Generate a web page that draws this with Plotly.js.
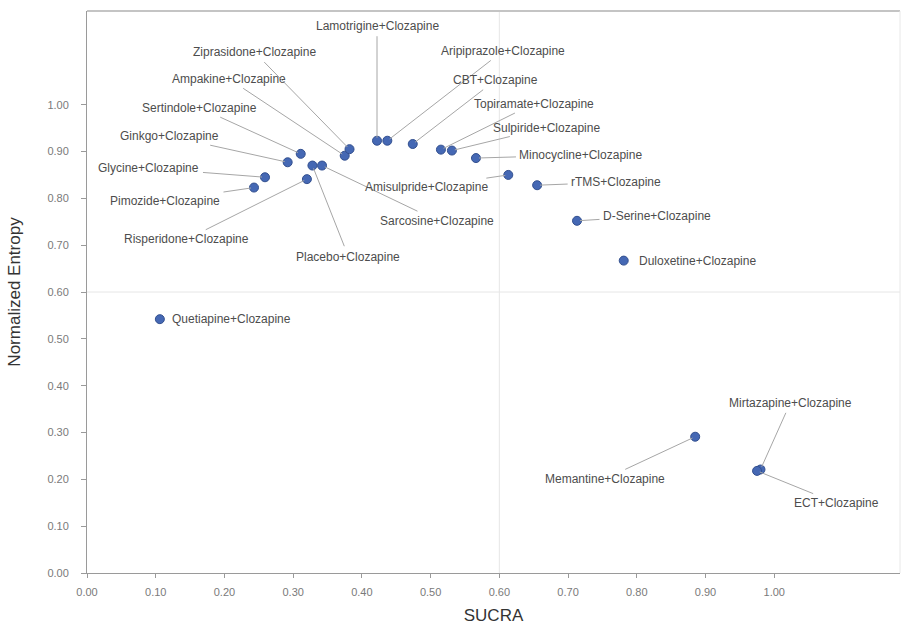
<!DOCTYPE html>
<html>
<head>
<meta charset="utf-8">
<script src="https://cdn.plot.ly/plotly-3.0.1.min.js"></script>
<style>html,body{margin:0;padding:0;background:#fff;}#chart{width:902px;height:625px;}</style>
</head>
<body>
<div id="chart"></div>
<script>
// ---- data ----
const treatments = [
  "Pimozide+Clozapine", "Glycine+Clozapine", "Ginkgo+Clozapine", "Sertindole+Clozapine",
  "Risperidone+Clozapine", "Placebo+Clozapine", "Sarcosine+Clozapine", "Ampakine+Clozapine",
  "Ziprasidone+Clozapine", "Lamotrigine+Clozapine", "Aripiprazole+Clozapine", "CBT+Clozapine",
  "Topiramate+Clozapine", "Sulpiride+Clozapine", "Minocycline+Clozapine", "Amisulpride+Clozapine",
  "rTMS+Clozapine", "D-Serine+Clozapine", "Duloxetine+Clozapine", "Quetiapine+Clozapine",
  "Memantine+Clozapine", "Mirtazapine+Clozapine", "ECT+Clozapine"
];
const sucra = [
  0.243, 0.259, 0.292, 0.311,
  0.320, 0.328, 0.342, 0.375,
  0.382, 0.422, 0.437, 0.474,
  0.515, 0.531, 0.566, 0.613,
  0.655, 0.713, 0.781, 0.106,
  0.885, 0.980, 0.975
];
const entropy = [
  0.823, 0.845, 0.877, 0.895,
  0.841, 0.870, 0.870, 0.891,
  0.905, 0.923, 0.923, 0.916,
  0.904, 0.902, 0.886, 0.850,
  0.828, 0.752, 0.667, 0.542,
  0.291, 0.221, 0.218
];
const tickValues = [0, 0.1, 0.2, 0.3, 0.4, 0.5, 0.6, 0.7, 0.8, 0.9, 1.0];
const tickLabels = ["0.00", "0.10", "0.20", "0.30", "0.40", "0.50", "0.60", "0.70", "0.80", "0.90", "1.00"];
const refSucra = 0.6;
const refEntropy = 0.6;

// ---- label placement (pixel offsets from each point) ----
const labelOffsets = {
  "Pimozide+Clozapine": [-89, 13],
  "Glycine+Clozapine": [-116, -9],
  "Ginkgo+Clozapine": [-118, -26],
  "Sertindole+Clozapine": [-101, -46],
  "Risperidone+Clozapine": [-120, 60],
  "Placebo+Clozapine": [36, 91],
  "Sarcosine+Clozapine": [115, 55],
  "Ampakine+Clozapine": [-116, -77],
  "Ziprasidone+Clozapine": [-95, -97],
  "Lamotrigine+Clozapine": [0, -115],
  "Aripiprazole+Clozapine": [116, -90],
  "CBT+Clozapine": [83, -64],
  "Topiramate+Clozapine": [93, -46],
  "Sulpiride+Clozapine": [95, -23],
  "Minocycline+Clozapine": [105, -3],
  "Amisulpride+Clozapine": [-82, 12],
  "rTMS+Clozapine": [79, -3],
  "D-Serine+Clozapine": [80, -5],
  "Memantine+Clozapine": [-90, 42],
  "Mirtazapine+Clozapine": [30, -67],
  "ECT+Clozapine": [79, 32]
};
const plainLabels = { // labels without leader lines: left shift in px
  "Duloxetine+Clozapine": 13,
  "Quetiapine+Clozapine": 10
};

const labelFont = {family: "Liberation Sans, Arial, sans-serif", size: 12, color: "#4d4d4d"};
const annotations = treatments.map((t, i) => {
  if (plainLabels[t] !== undefined) {
    return {x: sucra[i], y: entropy[i], xref: "x", yref: "y", text: t, showarrow: false,
            xanchor: "left", yanchor: "middle", xshift: plainLabels[t], font: labelFont};
  }
  const o = labelOffsets[t];
  return {x: sucra[i], y: entropy[i], xref: "x", yref: "y", text: t, showarrow: true,
          ax: o[0], ay: o[1], arrowhead: 0, arrowwidth: 1, arrowcolor: "#a6a6a6",
          standoff: 3, startstandoff: 2, font: labelFont};
});

const trace = {
  x: sucra, y: entropy, text: treatments, type: "scatter", mode: "markers",
  marker: {size: 9, color: "#4568b4", line: {color: "#33508f", width: 1}},
  hoverinfo: "text+x+y"
};

const axisFont = {family: "Liberation Sans, Arial, sans-serif", size: 11, color: "#7a7a7a"};
const layout = {
  width: 902, height: 625,
  margin: {l: 87, r: 2, t: 11, b: 52},
  paper_bgcolor: "#ffffff", plot_bgcolor: "#ffffff",
  showlegend: false,
  xaxis: {
    range: [0, 1.183], tickvals: tickValues, ticktext: tickLabels,
    showgrid: false, zeroline: false, showline: true, linecolor: "#9a9a9a", linewidth: 1,
    ticks: "outside", ticklen: 4, tickcolor: "#9a9a9a", tickfont: axisFont, ticklabelstandoff: 5,
    title: {text: "SUCRA", font: {family: "Liberation Sans, Arial, sans-serif", size: 17, color: "#333333"}, standoff: 14}
  },
  yaxis: {
    range: [0, 1.2], tickvals: tickValues, ticktext: tickLabels,
    showgrid: false, zeroline: false, showline: true, linecolor: "#9a9a9a", linewidth: 1,
    ticks: "outside", ticklen: 5, tickcolor: "#9a9a9a", tickfont: axisFont, ticklabelstandoff: 10,
    title: {text: "Normalized Entropy", font: {family: "Liberation Sans, Arial, sans-serif", size: 17, color: "#333333"}, standoff: 22}
  },
  shapes: [
    {type: "line", xref: "x", yref: "paper", x0: refSucra, x1: refSucra, y0: 0, y1: 1,
     line: {color: "#e6e6e6", width: 1}, layer: "below"},
    {type: "line", xref: "paper", yref: "y", x0: 0, x1: 1, y0: refEntropy, y1: refEntropy,
     line: {color: "#e6e6e6", width: 1}, layer: "below"},
    {type: "line", xref: "paper", yref: "paper", x0: 0, x1: 1, y0: 1, y1: 1,
     line: {color: "#c4c4c4", width: 2}},
    {type: "line", xref: "paper", yref: "paper", x0: 1, x1: 1, y0: 0, y1: 1,
     line: {color: "#e8e8e8", width: 1}}
  ],
  annotations: annotations
};

Plotly.newPlot("chart", [trace], layout, {displayModeBar: false, staticPlot: true});
</script>
</body>
</html>
